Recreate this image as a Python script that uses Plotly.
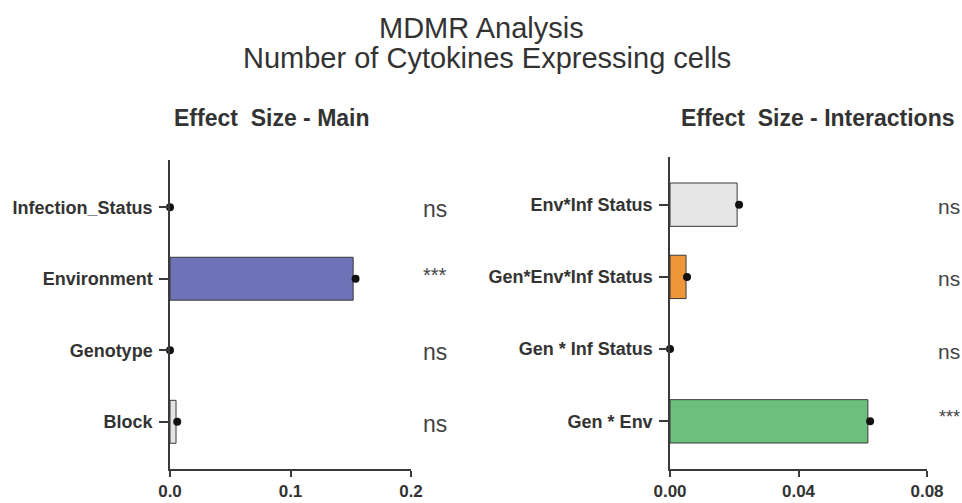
import plotly.graph_objects as go

main_cats = ["Infection_Status", "Environment", "Genotype", "Block"]
main_vals = [0.0, 0.152, 0.0, 0.005]
main_pts = [0.0, 0.154, 0.0, 0.006]
main_sig = ["ns", "***", "ns", "ns"]
main_colors = ["#d9d9d9", "#6e72b6", "#d9d9d9", "#e4e4e4"]

int_cats = ["Env*Inf Status", "Gen*Env*Inf Status", "Gen * Inf Status", "Gen * Env"]
int_vals = [0.0209, 0.0050, 0.0, 0.0616]
int_pts = [0.0215, 0.0053, 0.0, 0.0623]
int_sig = ["ns", "ns", "ns", "***"]
int_colors = ["#e6e6e6", "#f0963a", "#d9d9d9", "#6cc07c"]

main_ticks = [0.0, 0.1, 0.2]
main_ticktext = ["0.0", "0.1", "0.2"]
int_ticks = [0.0, 0.04, 0.08]
int_ticktext = ["0.00", "0.04", "0.08"]

W, H = 962, 503
FONT = "Liberation Sans, Arial, sans-serif"
AX = "#3a3a3a"
TXT = "#333333"

def px_x(p):
    return p / W

def px_y(p):
    return 1 - p / H

fig = go.Figure()

fig.add_trace(go.Bar(
    y=main_cats, x=main_vals, orientation="h", width=0.6,
    marker=dict(color=main_colors,
                line=dict(color="#3a3a3a", width=[1 if v > 0 else 0 for v in main_vals])),
    xaxis="x", yaxis="y", showlegend=False))
fig.add_trace(go.Scatter(
    y=main_cats, x=main_pts, mode="markers",
    marker=dict(color="#111111", size=8),
    xaxis="x", yaxis="y", showlegend=False, cliponaxis=False))

fig.add_trace(go.Bar(
    y=int_cats, x=int_vals, orientation="h", width=0.6,
    marker=dict(color=int_colors,
                line=dict(color="#3a3a3a", width=[1 if v > 0 else 0 for v in int_vals])),
    xaxis="x2", yaxis="y2", showlegend=False))
fig.add_trace(go.Scatter(
    y=int_cats, x=int_pts, mode="markers",
    marker=dict(color="#111111", size=8),
    xaxis="x2", yaxis="y2", showlegend=False, cliponaxis=False))

axis_common = dict(showline=True, linecolor=AX, linewidth=1.5, ticks="outside",
                   tickwidth=1.5, tickcolor=AX, showgrid=False,
                   zeroline=False, automargin=False)
xfont = dict(family=FONT, size=17, color=TXT, weight="bold")
yfont = dict(family=FONT, size=18, color=TXT, weight="bold")

fig.update_layout(
    width=W, height=H,
    margin=dict(l=0, r=0, t=0, b=0),
    plot_bgcolor="white", paper_bgcolor="white",
    xaxis=dict(domain=[px_x(170), px_x(411)], range=[0, 0.2], tickvals=main_ticks,
               ticktext=main_ticktext, anchor="y", tickfont=xfont, ticklen=6, **axis_common),
    yaxis=dict(domain=[px_y(469), px_y(160)], type="category",
               categoryorder="array", categoryarray=main_cats[::-1],
               range=[-0.66, 3.66], anchor="x", tickfont=yfont, ticklen=9,
               ticklabelstandoff=3, **axis_common),
    xaxis2=dict(domain=[px_x(670), px_x(927)], range=[0, 0.08], tickvals=int_ticks,
                ticktext=int_ticktext, anchor="y2", tickfont=xfont, ticklen=6, **axis_common),
    yaxis2=dict(domain=[px_y(469), px_y(157)], type="category",
                categoryorder="array", categoryarray=int_cats[::-1],
                range=[-0.66, 3.66], anchor="x2", tickfont=yfont, ticklen=9,
                ticklabelstandoff=3, **axis_common),
)

def ann(text, x, y, size, bold=False, **kw):
    d = dict(text=("<b>%s</b>" % text if bold else text), x=x, y=y, showarrow=False,
             xanchor=kw.pop("xanchor", "center"), yanchor="middle",
             font=dict(family=FONT, size=size, color=kw.pop("color", TXT)))
    d.update(kw)
    return d

annotations = [
    ann("MDMR Analysis", 0.5, px_y(28), 29, xref="paper", yref="paper"),
    ann("Number of Cytokines Expressing cells", px_x(487), px_y(58), 29,
        xref="paper", yref="paper"),
    ann("Effect  Size - Main", px_x(272), px_y(118), 23, bold=True, xref="paper", yref="paper"),
    ann("Effect  Size - Interactions", px_x(818), px_y(118), 23, bold=True,
        xref="paper", yref="paper"),
]
for c, s in zip(main_cats, main_sig):
    annotations.append(ann(s, px_x(435), c, (23 if s == "ns" else 20), xref="paper", yref="y",
                           yshift=(-2 if s == "ns" else 4), color="#444444"))
for c, s in zip(int_cats, int_sig):
    annotations.append(ann(s, 1.0, c, (21 if s == "ns" else 18), xref="paper", yref="y2",
                           xanchor="right", yshift=(-2 if s == "ns" else 4), color="#444444"))
fig.update_layout(annotations=annotations)

fig.write_html("out.html", config={"displayModeBar": False},
               post_script="document.body.style.margin='0';")
